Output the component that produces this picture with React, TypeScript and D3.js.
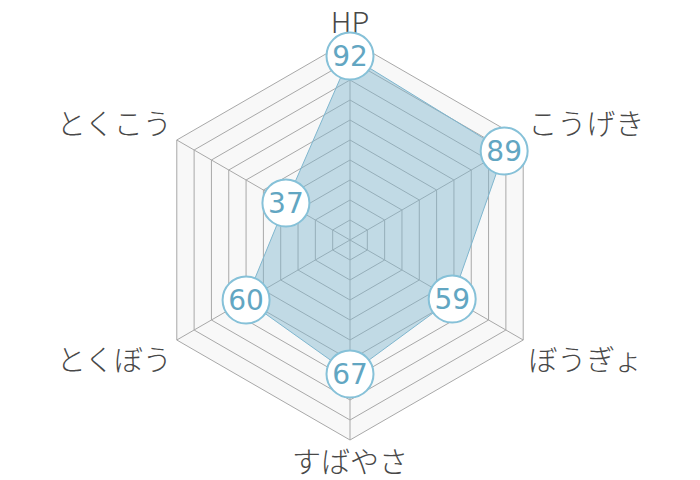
import * as d3 from "d3";
import { useEffect, useRef } from "react";

const stats = ["HP", "こうげき", "ぼうぎょ", "すばやさ", "とくぼう", "とくこう"];
const values = [92, 89, 59, 67, 60, 37];
const maxValue = 100;
const ringSteps = [10, 20, 30, 40, 50, 60, 70, 80, 90, 100];

export default function App() {
  const ref = useRef<SVGSVGElement>(null);

  useEffect(() => {
    document.body.style.margin = "0";
    const svg = d3.select(ref.current);
    svg.selectAll("*").remove();

    const cx = 350, cy = 240, R = 200;
    const r = d3.scaleLinear().domain([0, maxValue]).range([0, R]);
    const angle = d3.scaleLinear().domain([0, stats.length]).range([0, 2 * Math.PI]);
    const font = "'Noto Sans CJK JP', 'Noto Sans', sans-serif";
    const numFont = "'DejaVu Sans', sans-serif";

    const g = svg.append("g").attr("transform", `translate(${cx},${cy})`);
    const ring = d3.lineRadial<number>()
      .angle((_, i) => angle(i))
      .radius(d => r(d))
      .curve(d3.curveLinearClosed);

    // background + rings
    g.append("path")
      .attr("d", ring(stats.map(() => maxValue)))
      .attr("fill", "#f8f8f8");

    g.selectAll(".ring")
      .data(ringSteps)
      .join("path")
      .attr("class", "ring")
      .attr("d", v => ring(stats.map(() => v)))
      .attr("fill", "none")
      .attr("stroke", "#a8a8a8")
      .attr("stroke-width", 1);

    g.selectAll(".spoke")
      .data(stats)
      .join("line")
      .attr("class", "spoke")
      .attr("x1", 0).attr("y1", 0)
      .attr("x2", (_, i) => d3.pointRadial(angle(i), R)[0])
      .attr("y2", (_, i) => d3.pointRadial(angle(i), R)[1])
      .attr("stroke", "#a8a8a8")
      .attr("stroke-width", 1);

    // data area
    g.append("path")
      .attr("d", ring(values))
      .attr("fill", "rgba(127,182,206,0.45)")
      .attr("stroke", "#7fb6ce")
      .attr("stroke-width", 1);

    // axis labels
    g.selectAll(".label")
      .data(stats)
      .join("text")
      .attr("class", "label")
      .attr("x", (_, i) => {
        const [x] = d3.pointRadial(angle(i), R);
        const s = Math.sin(angle(i));
        return Math.abs(s) < 0.1 ? x : x + Math.sign(s) * 5;
      })
      .attr("y", (_, i) => {
        const [, y] = d3.pointRadial(angle(i), R);
        const c = Math.cos(angle(i));
        return y - Math.sign(c) * (Math.abs(Math.sin(angle(i))) < 0.1 ? 20 : 18);
      })
      .attr("text-anchor", (_, i) => {
        const s = Math.sin(angle(i));
        return Math.abs(s) < 0.1 ? "middle" : s > 0 ? "start" : "end";
      })
      .attr("dominant-baseline", "central")
      .attr("font-family", font)
      .attr("font-weight", 300)
      .attr("font-size", 29)
      .attr("fill", "#484848")
      .text(d => d);

    // value badges
    const badge = g.selectAll(".badge")
      .data(values)
      .join("g")
      .attr("class", "badge")
      .attr("transform", (v, i) => {
        const [x, y] = d3.pointRadial(angle(i), r(v));
        return `translate(${x},${y})`;
      });

    badge.append("circle")
      .attr("r", 23.5)
      .attr("fill", "#fff")
      .attr("stroke", "#86c1d8")
      .attr("stroke-width", 2);

    badge.append("text")
      .attr("text-anchor", "middle")
      .attr("dominant-baseline", "central")
      .attr("font-family", numFont)
      .attr("font-size", 28)
      .attr("fill", "#62a6c2")
      .text(v => v);
  }, []);

  return <svg ref={ref} width={700} height={480} style={{ display: "block" }}></svg>;
}
